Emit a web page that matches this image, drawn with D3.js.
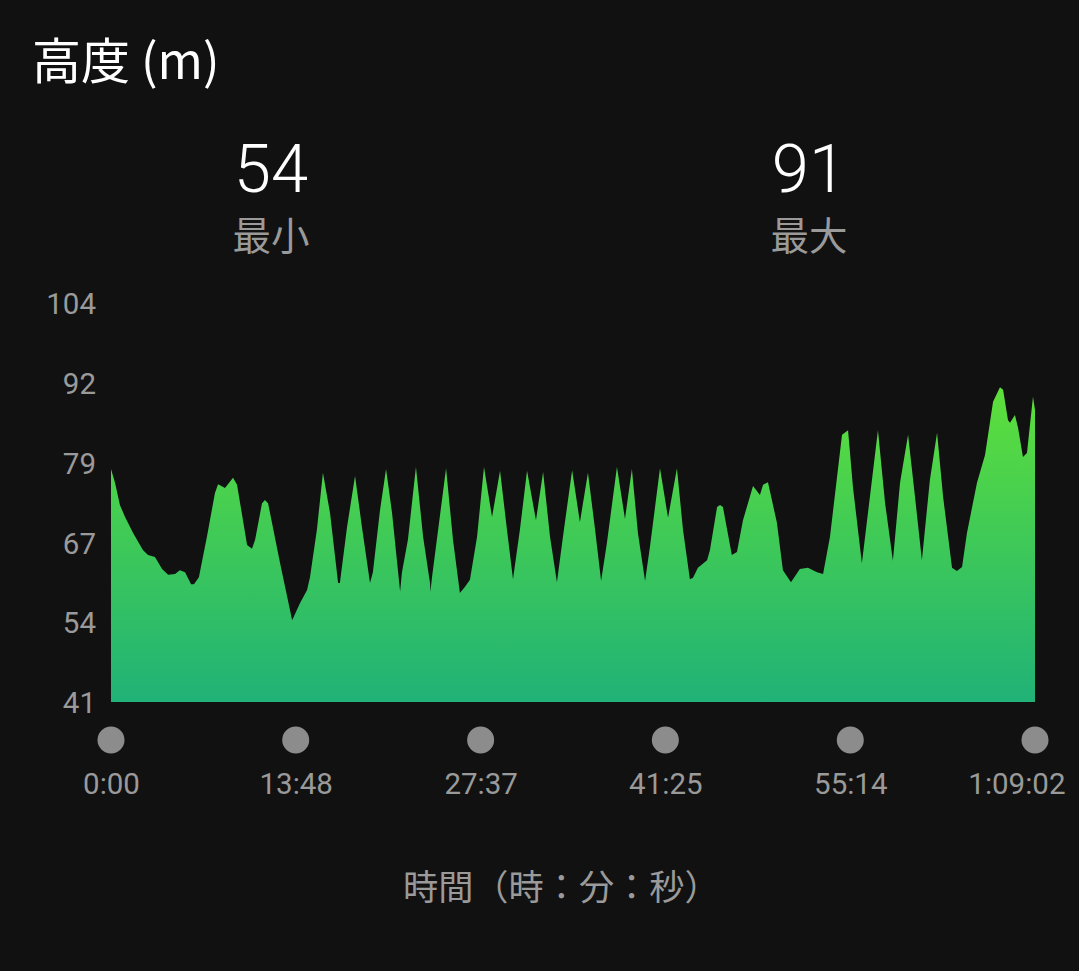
<!DOCTYPE html>
<html>
<head>
<meta charset="utf-8">
<script src="https://cdn.jsdelivr.net/npm/d3@7/dist/d3.min.js"></script>
<style>
  html, body { margin: 0; padding: 0; background: #111111; }
  svg { display: block; }
</style>
</head>
<body>
<svg id="chart" width="1079" height="971"></svg>
<script>
// ---- data ----
const timeSec = [0,18,40,63,99,143,166,197,229,256,287,309,332,359,372,394,430,466,480,511,547,565,610,632,646,677,690,704,758,812,847,879,892,923,950,982,1018,1026,1058,1094,1125,1161,1174,1206,1233,1260,1296,1304,1331,1367,1399,1430,1432,1439,1502,1533,1564,1587,1609,1641,1672,1708,1744,1775,1802,1833,1865,1905,1937,1968,1999,2026,2067,2102,2138,2170,2197,2223,2268,2304,2335,2362,2394,2416,2461,2497,2537,2564,2595,2609,2631,2672,2685,2717,2730,2743,2783,2806,2833,2878,2909,2923,2945,2985,3012,3048,3088,3124,3165,3192,3223,3277,3304,3326,3366,3402,3438,3470,3505,3537,3573,3604,3635,3671,3703,3730,3770,3792,3815,3837,3882,3918,3954,3985,3999,4021,4030,4052,4066,4088,4106,4133,4142];
const elevation = [77.8,75.6,72.1,70.2,67.7,65.0,64.2,63.9,62.0,61.1,61.2,61.8,61.5,59.6,59.6,60.7,67.1,74.0,75.4,74.8,76.4,75.3,65.8,65.2,66.6,72.4,72.9,72.4,62.9,53.9,56.6,58.7,60.7,68.2,77.2,70.8,59.8,59.8,68.6,76.7,68.6,59.8,61.5,71.3,77.8,70.8,58.4,61.4,66.6,78.1,67.1,59.8,58.4,60.7,77.9,66.6,58.2,59.2,60.3,67.1,78.1,70.2,77.5,68.2,60.4,68.2,77.5,69.7,77.3,67.1,59.9,67.1,77.6,69.4,77.2,68.2,60.1,66.1,78.1,69.9,77.8,67.7,60.1,65.5,77.9,70.1,77.9,68.2,60.4,60.6,62.2,63.4,65.0,71.8,72.1,71.8,64.2,64.7,69.7,75.1,73.7,75.3,75.7,69.3,61.8,59.9,62.0,62.2,61.5,61.2,67.1,83.2,83.9,74.9,62.9,73.4,83.9,72.4,63.3,75.6,83.2,73.4,63.4,76.1,83.5,73.4,62.2,61.7,62.3,67.7,75.6,80.0,88.4,90.7,90.3,85.5,85.1,86.3,84.3,79.7,80.3,89.2,87.1];
const yTickLabels = ["41","54","67","79","92","104"];
const xTickValues = [0, 828, 1657, 2485, 3314, 4142];
const xTickLabels = ["0:00","13:48","27:37","41:25","55:14","1:09:02"];
const minValue = "54", maxValue = "91";

// ---- layout ----
const svg = d3.select("#chart");
const plotLeft = 111, plotRight = 1035, plotTop = 303, plotBottom = 702;
const yMin = 41, yMax = 104;

const x = d3.scaleLinear().domain([0, 4142]).range([plotLeft, plotRight]);
const y = d3.scaleLinear().domain([yMin, yMax]).range([plotBottom, plotTop]);

svg.append("rect").attr("width", 1079).attr("height", 971).attr("fill", "#111111");

const CJK = "'Noto Sans CJK JP', 'Noto Sans', Roboto, sans-serif";
const NUM = "Roboto, 'Noto Sans', sans-serif";

// title
svg.append("text").attr("x", 32).attr("y", 79)
  .attr("font-family", CJK).attr("font-size", 49).attr("fill", "#ffffff")
  .text("高度 (m)");

// summary values
const summary = [{v: minValue, l: "最小", cx: 271}, {v: maxValue, l: "最大", cx: 809}];
summary.forEach(s => {
  svg.append("text").attr("x", s.cx).attr("y", 192).attr("text-anchor", "middle")
    .attr("font-family", NUM).attr("font-weight", 300).attr("font-size", 67).attr("fill", "#ffffff")
    .text(s.v);
  svg.append("text").attr("x", s.cx).attr("y", 250).attr("text-anchor", "middle")
    .attr("font-family", CJK).attr("font-size", 38.5).attr("fill", "#9a9a9a")
    .text(s.l);
});

// gradient
const defs = svg.append("defs");
const grad = defs.append("linearGradient").attr("id", "elevGrad")
  .attr("gradientUnits", "userSpaceOnUse")
  .attr("x1", 0).attr("x2", 0).attr("y1", y(91)).attr("y2", plotBottom);
grad.append("stop").attr("offset", "0%").attr("stop-color", "#5fe03a");
grad.append("stop").attr("offset", "45%").attr("stop-color", "#41cb55");
grad.append("stop").attr("offset", "100%").attr("stop-color", "#20b277");

const data = timeSec.map((t, i) => ({t, v: elevation[i]}));
const area = d3.area().x(d => x(d.t)).y0(plotBottom).y1(d => y(d.v)).curve(d3.curveLinear);
svg.append("path").datum(data).attr("d", area).attr("fill", "url(#elevGrad)");

// y axis labels
const yTickVals = yTickLabels.map((_, i) => yMin + i * (yMax - yMin) / (yTickLabels.length - 1));
const yAxis = d3.axisLeft(y).tickValues(yTickVals).tickSize(0).tickPadding(0)
  .tickFormat((d, i) => yTickLabels[i]);
const yg = svg.append("g").attr("transform", `translate(${96},0)`).call(yAxis);
yg.select(".domain").remove();
yg.selectAll("text").attr("font-family", NUM).attr("font-size", 29.5).attr("fill", "#9a9a9a")
  .attr("dy", "0.36em");

// x axis: dots and labels
const xAxis = d3.axisBottom(x).tickValues(xTickValues).tickSize(0).tickPadding(0)
  .tickFormat((d, i) => xTickLabels[i]);
const xg = svg.append("g").attr("transform", `translate(0,${794})`).call(xAxis);
xg.select(".domain").remove();
xg.selectAll("text").attr("font-family", NUM).attr("font-size", 29.5).attr("fill", "#9a9a9a")
  .attr("dy", 0);
// last label is kept inside the view (right aligned), as in the reference
xg.selectAll(".tick").filter((d, i) => i === xTickValues.length - 1).select("text")
  .attr("text-anchor", "end").attr("x", 1065 - plotRight);

svg.append("g").selectAll("circle").data(xTickValues).join("circle")
  .attr("cx", d => x(d)).attr("cy", 740).attr("r", 13.5).attr("fill", "#8c8c8c");

// x axis title
svg.append("text").attr("x", 403).attr("y", 900)
  .attr("font-family", CJK).attr("font-size", 35.2).attr("fill", "#9a9a9a")
  .text("時間（時：分：秒）");
</script>
</body>
</html>
